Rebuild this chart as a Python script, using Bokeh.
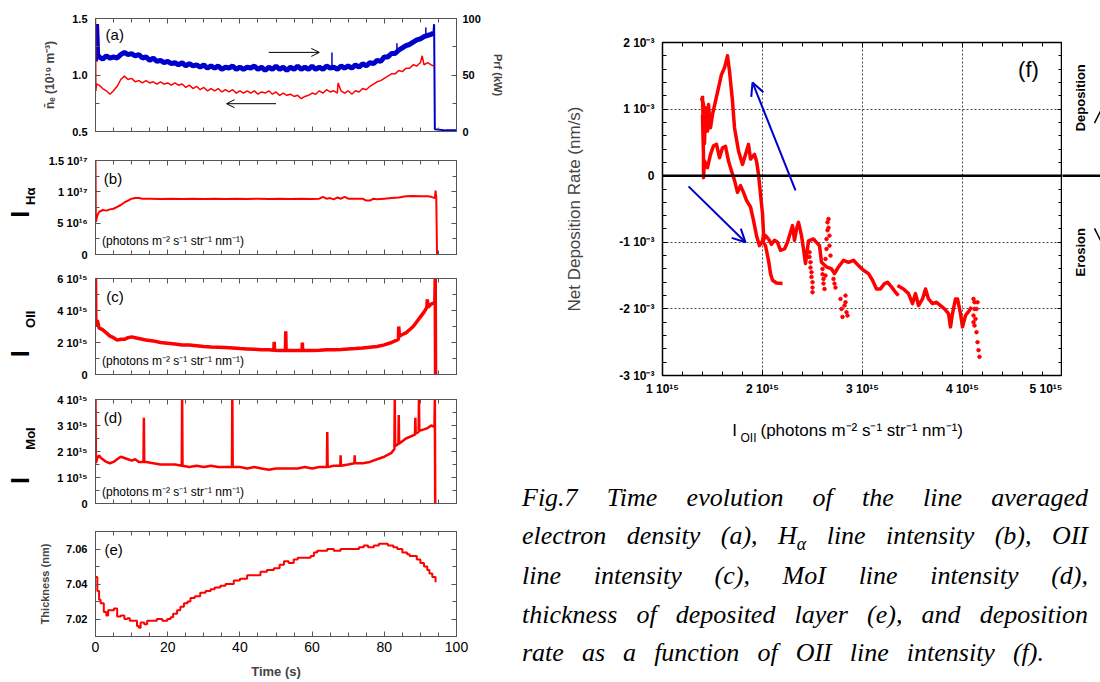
import math
from bokeh.plotting import figure
from bokeh.layouts import row, column
from bokeh.models import (LinearAxis, Range1d, FixedTicker, Label, Arrow, OpenHead,
                          Div, CustomJSTickFormatter)
from bokeh.core.properties import value
from bokeh.embed import file_html
from bokeh.resources import INLINE

FONT = "Liberation Sans"
RED = "#FF0000"
BLUE = "#0000CC"
FRAME = "#555555"

# ---------------- data ----------------
# (a) RF power (kW, right axis) - noisy band
prf_t = [
    0, 0.3, 0.6, 1, 2, 3, 4, 5, 6, 7,
    8, 9, 10, 11, 12, 13, 14, 15, 16, 17,
    18, 19, 20, 21, 22, 23, 24, 25, 26, 27,
    28, 29, 30, 31, 32, 33, 34, 35, 36, 37,
    38, 39, 40, 41, 42, 43, 44, 45, 46, 47,
    48, 49, 50, 51, 52, 53, 54, 55, 56, 57,
    58, 59, 60, 61, 62, 63, 64, 65, 66, 67,
    68, 69, 70, 71, 72, 73, 74, 75, 76, 77,
    78, 79, 80, 81, 82, 83, 84, 85, 86, 87,
    88, 89, 90, 91, 92, 93, 93.6]
prf_kw = [
    62, 95, 68, 66, 64, 67, 65, 66, 65, 68,
    70, 68, 69, 67, 68, 65, 66, 63, 65, 62,
    63, 61, 62, 60, 61, 59, 61, 58, 60, 58,
    59, 57, 59, 56, 58, 56, 58, 55, 57, 56,
    58, 55, 57, 55, 57, 56, 58, 55, 57, 54,
    57, 55, 58, 55, 57, 54, 57, 55, 58, 55,
    57, 55, 58, 55, 57, 55, 58, 56, 57, 55,
    58, 56, 58, 56, 59, 57, 60, 58, 61, 60,
    63, 62, 66, 66, 69, 69, 72, 74, 76, 77,
    79, 81, 82, 84, 85, 86, 87]
# (a) RF power after switch-off
prf_off_t = [93.6, 93.8, 94, 97, 100]
prf_off_kw = [87, 95, 2, 1, 1]
# (a) RF power short spikes (time, base, top)
prf_spike_t = [65.5, 83.5, 91.5]
prf_spike_lo = [57, 69, 84]
prf_spike_hi = [70, 78, 92]
# (a) line averaged density (1e19 m^-3, left axis)
ne_t = [
    0, 0.1, 0.3, 1, 2, 3, 4, 5, 6, 7,
    8, 9, 10, 11, 12, 13, 14, 15, 16, 17,
    18, 19, 20, 21, 22, 23, 24, 25, 26, 27,
    28, 29, 30, 31, 32, 33, 34, 35, 36, 37,
    38, 39, 40, 41, 42, 43, 44, 45, 46, 47,
    48, 49, 50, 51, 52, 53, 54, 55, 56, 57,
    58, 59, 60, 61, 62, 63, 64, 65, 66, 67,
    67.2, 68, 69, 70, 71, 72, 73, 74, 75, 76,
    77, 78, 79, 80, 81, 82, 83, 84, 85, 86,
    87, 88, 89, 90, 90.5, 91, 92, 93, 93.7]
ne_val = [
    1.50, 0.86, 0.92, 0.91, 0.88, 0.86, 0.83, 0.86, 0.90, 0.96,
    0.99, 0.96, 0.97, 0.94, 0.95, 0.93, 0.95, 0.93, 0.94, 0.92,
    0.94, 0.92, 0.93, 0.91, 0.93, 0.91, 0.92, 0.89, 0.91, 0.88,
    0.90, 0.87, 0.89, 0.86, 0.88, 0.86, 0.88, 0.85, 0.87, 0.85,
    0.87, 0.84, 0.86, 0.84, 0.86, 0.84, 0.86, 0.83, 0.85, 0.84,
    0.86, 0.83, 0.85, 0.82, 0.84, 0.82, 0.83, 0.81, 0.82, 0.79,
    0.81, 0.82, 0.84, 0.83, 0.86, 0.84, 0.87, 0.85, 0.86, 0.84,
    0.93, 0.86, 0.84, 0.86, 0.83, 0.86, 0.85, 0.88, 0.87, 0.90,
    0.92, 0.94, 0.95, 0.97, 0.99, 1.01, 1.01, 1.04, 1.03, 1.06,
    1.06, 1.09, 1.08, 1.11, 1.17, 1.09, 1.11, 1.09, 1.08]
# (b) H-alpha intensity (1e16 photons ...)
ha_t = [
    0, 0.1, 0.5, 1, 2, 3, 4, 5, 6, 7,
    8, 9, 10, 11, 12, 13, 15, 18, 21, 24,
    27, 30, 33, 36, 39, 42, 45, 48, 51, 54,
    57, 60, 62, 63, 64, 65, 66, 67, 68, 69,
    70, 72, 74, 75, 76, 77, 78, 80, 82, 84,
    86, 88, 90, 92, 93, 94, 94.2, 94.4, 94.6]
ha_val = [
    15.0, 5.2, 6.2, 6.8, 7.1, 7.0, 7.2, 7.3, 7.6, 7.9,
    8.3, 8.6, 8.9, 9.0, 9.0, 8.9, 8.9, 8.85, 8.9, 8.85,
    8.9, 8.85, 8.9, 8.85, 8.9, 8.85, 8.9, 8.85, 8.9, 8.85,
    8.9, 8.85, 8.9, 9.2, 8.9, 9.0, 8.8, 9.1, 8.9, 9.2,
    8.9, 8.9, 8.9, 8.6, 8.6, 8.9, 8.8, 8.9, 9.0, 9.1,
    9.3, 9.35, 9.3, 9.3, 9.2, 9.0, 10.2, 9.0, 0.0]
# (c) OII intensity (1e15)
oii_t = [
    0, 0.1, 0.5, 1, 2, 3, 4, 5, 6, 7,
    8, 9, 10, 11, 12, 13, 14, 16, 18, 20,
    22, 24, 26, 28, 30, 32, 34, 36, 38, 40,
    42, 44, 46, 48, 49.4, 49.5, 49.6, 51, 52.6, 52.7,
    52.8, 55, 57.2, 57.3, 57.4, 60, 62, 64, 66, 68,
    70, 72, 74, 76, 78, 80, 82, 83.9, 84, 84.2,
    85, 86, 87, 88, 89, 90, 91, 91.8, 91.9, 92.1,
    93, 94, 94.1, 94.2]
oii_val = [
    6.0, 3.0, 3.4, 2.9, 2.8, 2.6, 2.4, 2.3, 2.15, 2.2,
    2.2, 2.3, 2.35, 2.3, 2.25, 2.2, 2.15, 2.1, 2.0, 1.95,
    1.9, 1.85, 1.85, 1.8, 1.75, 1.72, 1.7, 1.68, 1.65, 1.62,
    1.6, 1.58, 1.55, 1.55, 1.52, 2.05, 1.52, 1.5, 1.5, 2.7,
    1.5, 1.5, 1.5, 2.0, 1.5, 1.5, 1.52, 1.55, 1.55, 1.57,
    1.6, 1.62, 1.65, 1.7, 1.75, 1.85, 2.0, 2.2, 3.0, 2.4,
    2.5, 2.6, 2.8, 3.0, 3.3, 3.6, 3.9, 4.2, 4.7, 4.2,
    4.4, 4.5, 6.0, 0.0]
# (d) MoI intensity (1e15)
moi_t = [
    0, 0.1, 0.5, 1, 1.5, 2, 3, 4, 5, 6,
    7, 8, 9, 10, 11, 12, 13.3, 13.4, 13.5, 14,
    16, 18, 20, 22, 23.9, 24.0, 24.1, 26, 28, 30,
    32, 34, 36, 37.8, 37.9, 38.0, 40, 42, 44, 46,
    48, 50, 52, 54, 56, 58, 60, 62, 64.1, 64.2,
    64.3, 66, 67.8, 67.9, 68.0, 70, 71.7, 71.8, 71.9, 74,
    76, 78, 80, 82, 82.8, 82.9, 83.0, 83.9, 84.0, 84.1,
    86, 88.5, 88.6, 88.7, 89.5, 89.6, 89.7, 91, 92, 93,
    93.9, 94.0, 94.1]
moi_val = [
    4.0, 1.55, 1.75, 1.85, 1.75, 1.7, 1.6, 1.55, 1.6, 1.7,
    1.8, 1.75, 1.7, 1.65, 1.7, 1.6, 1.6, 3.3, 1.6, 1.6,
    1.55, 1.5, 1.5, 1.5, 1.45, 4.0, 1.45, 1.4, 1.45, 1.4,
    1.45, 1.4, 1.4, 1.4, 4.0, 1.4, 1.4, 1.35, 1.4, 1.35,
    1.3, 1.35, 1.35, 1.35, 1.35, 1.4, 1.35, 1.4, 1.4, 2.75,
    1.4, 1.45, 1.45, 1.85, 1.45, 1.5, 1.55, 1.85, 1.55, 1.55,
    1.6, 1.7, 1.8, 1.95, 2.1, 4.0, 2.2, 2.3, 3.4, 2.3,
    2.5, 2.65, 3.3, 2.7, 2.75, 4.0, 2.8, 2.85, 2.9, 3.0,
    2.95, 4.0, 0.0]
# (e) thickness (nm)
th_t = [
    0, 0.5, 1, 1.4, 2.3, 3, 3.5, 4.2, 5.1, 6,
    7, 8, 8.8, 9.5, 10.6, 11.5, 12, 12.5, 13.5, 14.3,
    15.5, 17, 18.5, 19.9, 20.8, 21.5, 22.6, 23.5, 24.5, 25.5,
    26.3, 27.5, 29, 30.5, 31.9, 33, 34.6, 36, 38.3, 40,
    42, 43.5, 45.7, 47.5, 49.4, 51, 52.2, 53.5, 54.9, 56,
    56.8, 58, 59.6, 60.5, 61.4, 62.5, 64.2, 66, 67.9, 69.5,
    71.6, 73, 74.3, 75.5, 77.1, 78.5, 79.9, 81, 81.7, 82.5,
    83.6, 85, 86.3, 87, 88.2, 89, 90, 91, 91.9, 92.5,
    93.3, 94.2]
th_val = [
    7.044, 7.036, 7.031, 7.029, 7.024, 7.022, 7.025, 7.025, 7.026, 7.0215,
    7.022, 7.020, 7.0205, 7.019, 7.019, 7.016, 7.015, 7.018, 7.017, 7.019,
    7.019, 7.020, 7.019, 7.020, 7.021, 7.023, 7.025, 7.027, 7.029, 7.030,
    7.032, 7.033, 7.035, 7.036, 7.037, 7.038, 7.039, 7.040, 7.042, 7.043,
    7.045, 7.045, 7.047, 7.048, 7.049, 7.051, 7.053, 7.052, 7.054, 7.055,
    7.055, 7.055, 7.056, 7.058, 7.059, 7.059, 7.060, 7.059, 7.060, 7.060,
    7.060, 7.061, 7.062, 7.061, 7.062, 7.063, 7.063, 7.062, 7.062, 7.061,
    7.060, 7.058, 7.057, 7.056, 7.056, 7.054, 7.052, 7.050, 7.048, 7.046,
    7.044, 7.041]
# (f) net deposition rate (1e-3 nm/s) vs OII intensity (1e15)
f_up_x = [
    1.39, 1.41, 1.42, 1.43, 1.45, 1.46, 1.48, 1.50, 1.53, 1.56,
    1.59, 1.62, 1.65, 1.67, 1.70, 1.72, 1.76, 1.80, 1.83, 1.86,
    1.88, 1.92, 1.94, 1.96, 1.98, 2.00, 2.01, 2.00, 2.03, 2.06]
f_up_y = [
    1.17, 1.07, 0.48, 1.02, 0.67, 1.07, 0.72, 0.92, 1.12, 1.32,
    1.52, 1.62, 1.80, 1.57, 1.12, 0.72, 0.37, 0.17, 0.32, 0.47,
    0.25, 0.32, 0.22, 0.02, -0.28, -0.57, -0.87, -1.00, -0.90, -0.95]
f_lo_x = [
    1.40, 1.41, 1.40, 1.41, 1.41, 1.42, 1.45, 1.48, 1.51, 1.54,
    1.57, 1.60, 1.63, 1.66, 1.69, 1.72, 1.75, 1.78, 1.81, 1.84,
    1.88, 1.91, 1.94, 1.97, 2.00, 2.03, 2.06, 2.08, 2.10, 2.14,
    2.20]
f_lo_y = [
    1.20, 0.60, 0.90, 0.30, -0.03, 0.22, 0.12, 0.32, 0.45, 0.47,
    0.27, 0.42, 0.44, 0.22, 0.07, -0.07, -0.25, -0.15, -0.25, -0.37,
    -0.47, -0.67, -0.90, -1.05, -0.98, -1.05, -1.27, -1.47, -1.57, -1.61,
    -1.62]
f_mid_x = [
    2.06, 2.09, 2.12, 2.15, 2.18, 2.22, 2.25, 2.28, 2.30, 2.32,
    2.34, 2.36, 2.39, 2.41, 2.43, 2.46, 2.51, 2.54, 2.57, 2.59,
    2.64, 2.69, 2.72, 2.76, 2.81, 2.86, 2.91, 2.96, 3.01, 3.06,
    3.10, 3.14, 3.18, 3.22, 3.25, 3.29, 3.33, 3.36]
f_mid_y = [
    -0.95, -1.03, -0.97, -1.00, -1.12, -1.10, -1.00, -0.85, -0.75, -0.97,
    -0.80, -0.70, -0.90, -1.10, -1.32, -0.98, -0.95, -1.00, -1.05, -1.30,
    -1.37, -1.40, -1.47, -1.37, -1.27, -1.30, -1.27, -1.35, -1.42, -1.47,
    -1.57, -1.70, -1.70, -1.62, -1.60, -1.67, -1.75, -1.80]
f_end_x = [
    3.35, 3.41, 3.46, 3.50, 3.53, 3.56, 3.60, 3.63, 3.66, 3.70,
    3.74, 3.78, 3.82, 3.86, 3.88, 3.90, 3.93, 3.95, 3.98, 4.00,
    4.03, 4.07, 4.09]
f_end_y = [
    -1.65, -1.70, -1.77, -1.92, -1.77, -1.95, -1.85, -1.70, -1.85, -1.92,
    -1.90, -1.95, -2.00, -2.07, -2.27, -2.07, -1.85, -1.85, -2.07, -2.27,
    -2.10, -2.02, -1.97]
f_dot_x = [
    2.47, 2.47, 2.48, 2.48, 2.49, 2.49, 2.50, 2.50, 2.50, 2.60,
    2.60, 2.61, 2.61, 2.62, 2.63, 2.63, 2.64, 2.64, 2.65, 2.65,
    2.66, 2.66, 2.67, 2.67, 2.68, 2.71, 2.72, 2.73, 2.78, 2.79,
    2.80, 2.82, 2.83, 2.83, 2.84, 2.85, 4.11, 4.12, 4.12, 4.11,
    4.11, 4.12, 4.13, 4.14, 4.15, 4.14, 4.15, 4.16, 4.17]
f_dot_y = [
    -1.15, -1.22, -1.30, -1.38, -1.45, -1.52, -1.60, -1.68, -1.75, -1.40,
    -1.48, -1.55, -1.62, -1.70, -1.50, -1.25, -1.10, -0.95, -0.82, -0.70,
    -0.65, -0.78, -0.90, -1.05, -1.20, -1.55, -1.62, -1.68, -1.85, -2.00,
    -2.12, -1.95, -1.90, -1.80, -2.05, -2.10, -1.85, -1.90, -2.00, -2.10,
    -2.20, -2.25, -2.15, -2.00, -1.90, -2.35, -2.50, -2.62, -2.72]

# ---------------- ticks ----------------
time_ticks = [0, 20, 40, 60, 80, 100]
time_labels = ["0", "20", "40", "60", "80", "100"]
time_minor = list(range(0, 101, 5))
a_ticks, a_labels, a_minor = [0.5, 1.0, 1.5], ["0.5", "1.0", "1.5"], [0.75, 1.25]
a_rticks, a_rlabels, a_rminor = [0, 50, 100], ["0", "50", "100"], [25, 75]
b_ticks, b_labels, b_minor = [0, 5, 10, 15], ["0", "5 10¹⁶", "1 10¹⁷", "1.5 10¹⁷"], [2.5, 7.5, 12.5]
c_ticks, c_labels, c_minor = [0, 2, 4, 6], ["0", "2 10¹⁵", "4 10¹⁵", "6 10¹⁵"], [1, 3, 5]
d_ticks, d_labels, d_minor = [0, 1, 2, 3, 4], ["0", "1 10¹⁵", "2 10¹⁵", "3 10¹⁵", "4 10¹⁵"], [0.5, 1.5, 2.5, 3.5]
e_ticks, e_labels, e_minor = [7.02, 7.04, 7.06], ["7.02", "7.04", "7.06"], [7.01, 7.03, 7.05, 7.07]
f_xticks = [1, 2, 3, 4, 5]
f_xlabels = ["1 10¹⁵", "2 10¹⁵", "3 10¹⁵", "4 10¹⁵", "5 10¹⁵"]
f_xminor = [round(1 + 0.2 * i, 2) for i in range(21)]
f_yticks = [-3, -2, -1, 0, 1, 2]
f_ylabels = ["-3 10⁻³", "-2 10⁻³", "-1 10⁻³", "0", "1 10⁻³", "2 10⁻³"]
f_yminor = [round(-3 + 0.2 * i, 2) for i in range(26)]

caption_lines = [
    "Fig.7 Time evolution of the line averaged",
    "electron density (a), H<span style='font-size:18px;position:relative;top:6px'>α</span> line intensity (b), OII",
    "line intensity (c), MoI line intensity (d),",
    "thickness of deposited layer (e), and deposition",
    "rate as a function of OII line intensity (f).",
]
caption_widths = [566, 566, 566, 566, 522]


def style_axis(ax, ticks, minor, labels=None, size="11px", bold=True, color=FRAME, standoff=8):
    ax.ticker = FixedTicker(ticks=ticks, minor_ticks=minor)
    ax.major_tick_in = 5
    ax.major_tick_out = 0
    ax.minor_tick_in = 4
    ax.minor_tick_out = 0
    ax.axis_line_color = color
    ax.major_tick_line_color = color
    ax.minor_tick_line_color = color
    if labels is None:
        ax.formatter = CustomJSTickFormatter(code="return ''")
        ax.major_label_standoff = 0
    else:
        ax.major_label_overrides = dict(zip(ticks, labels))
        ax.major_label_text_font = FONT
        ax.major_label_text_font_size = size
        ax.major_label_text_font_style = "bold" if bold else "normal"
        ax.major_label_text_color = "black"
        ax.major_label_standoff = standoff


def left_panel(y0, y1, fh, top, bottom, yt, yl, ym, border_left=95, xlabels=False):
    p = figure(frame_width=361, frame_height=fh, min_border_left=border_left, min_border_right=60,
               min_border_top=top, min_border_bottom=bottom,
               x_range=Range1d(0, 100), y_range=Range1d(y0, y1),
               output_backend="svg", toolbar_location=None)
    p.grid.visible = False
    p.outline_line_color = FRAME
    style_axis(p.left[0], yt, ym, yl)
    style_axis(p.below[0], time_ticks, time_minor,
               time_labels if xlabels else None, size="14px", bold=False, standoff=5)
    top_ax = LinearAxis()
    p.add_layout(top_ax, "above")
    style_axis(top_ax, time_ticks, time_minor, None)
    return p


def side_fig(w, p, top, bottom, fh):
    # narrow text-only figure sharing the panel's vertical scale
    s = figure(frame_width=w, frame_height=fh, min_border_left=0, min_border_right=0,
               min_border_top=top, min_border_bottom=bottom,
               x_range=Range1d(0, w), y_range=p.y_range,
               x_axis_type=None, y_axis_type=None,
               output_backend="svg", toolbar_location=None)
    s.outline_line_color = None
    return s


def txt(p, x, y, text, size, bold=False, angle=0.0, align="left", baseline="middle"):
    p.text(x=[x], y=[y], text=[text], text_font=value(FONT), text_font_size=value(size),
           text_font_style="bold" if bold else "normal", angle=angle,
           text_align=align, text_baseline=baseline, text_color="black")


def lab(p, x, y, text, size, bold=False, align="left"):
    p.add_layout(Label(x=x, y=y, text=text, text_font=FONT, text_font_size=size,
                       text_font_style="bold" if bold else "normal",
                       text_align=align, text_baseline="middle", text_color="black"))


UNITS = "(photons m⁻² s⁻¹ str⁻¹ nm⁻¹)"
V = math.pi / 2
SIDE = 42

# ---- (a)
pa = left_panel(0.5, 1.5, 113, 18, 10, a_ticks, a_labels, a_minor)
pa.extra_y_ranges = {"rf": Range1d(0, 100)}
ra = LinearAxis(y_range_name="rf", axis_label="Prf (kW)")
pa.add_layout(ra, "right")
style_axis(ra, a_rticks, a_rminor, a_rlabels, standoff=6)
ra.axis_label_text_font = FONT
ra.axis_label_text_font_size = "11px"
ra.axis_label_text_font_style = "bold"
ra.axis_label_standoff = 8
la = pa.left[0]
la.axis_label = "n\u0304\u2091 (10¹⁹ m⁻³)"
la.axis_label_text_font = FONT
la.axis_label_text_font_size = "12px"
la.axis_label_text_font_style = "bold"
la.axis_label_standoff = 12
pa.line(prf_t, prf_kw, y_range_name="rf", color=BLUE, line_width=5)
pa.line(prf_off_t, prf_off_kw, y_range_name="rf", color=BLUE, line_width=2)
pa.segment(x0=prf_spike_t, y0=prf_spike_lo, x1=prf_spike_t, y1=prf_spike_hi,
           y_range_name="rf", color=BLUE, line_width=1.5)
pa.line(ne_t, ne_val, color=RED, line_width=1.5)
pa.add_layout(Arrow(end=OpenHead(size=8, line_color="black", line_width=1), x_start=48, y_start=1.20,
                    x_end=62, y_end=1.20, line_color="black", line_width=1))
pa.add_layout(Arrow(end=OpenHead(size=8, line_color="black", line_width=1), x_start=50, y_start=0.746,
                    x_end=36.3, y_end=0.746, line_color="black", line_width=1))
lab(pa, 2.8, 1.36, "(a)", "15px")

# ---- (b)
pb = left_panel(0, 15, 94, 19, 8, b_ticks, b_labels, b_minor, border_left=95 - SIDE)
rb = LinearAxis(); pb.add_layout(rb, "right"); style_axis(rb, b_ticks, b_minor, None)
pb.line(ha_t, ha_val, color=RED, line_width=2)
lab(pb, 2.3, 12.1, "(b)", "15px")
lab(pb, 1.8, 2.13, UNITS, "12px")
sb = side_fig(SIDE, pb, 19, 8, 94)
txt(sb, 19, 6.4, "I", "25px", bold=True, angle=V, align="center")
txt(sb, 30, 9.3, "Hα", "13px", bold=True, angle=V, align="center")

# ---- (c)
pc = left_panel(0, 6, 96, 16, 10, c_ticks, c_labels, c_minor, border_left=95 - SIDE)
rc = LinearAxis(); pc.add_layout(rc, "right"); style_axis(rc, c_ticks, c_minor, None)
pc.line(oii_t, oii_val, color=RED, line_width=3.5)
lab(pc, 3.0, 4.86, "(c)", "15px")
lab(pc, 1.8, 0.83, UNITS, "12px")
sc = side_fig(SIDE, pc, 16, 10, 96)
txt(sc, 19, 1.3, "I", "25px", bold=True, angle=V, align="center")
txt(sc, 30, 3.45, "OII", "13px", bold=True, angle=V, align="center")

# ---- (d)
pd_ = left_panel(0, 4, 104, 15, 8, d_ticks, d_labels, d_minor, border_left=95 - SIDE)
rd = LinearAxis(); pd_.add_layout(rd, "right"); style_axis(rd, d_ticks, d_minor, None)
pd_.line(moi_t, moi_val, color=RED, line_width=2.5)
lab(pd_, 2.3, 3.30, "(d)", "15px")
lab(pd_, 1.8, 0.44, UNITS, "12px")
sd = side_fig(SIDE, pd_, 15, 8, 104)
txt(sd, 19, 0.88, "I", "25px", bold=True, angle=V, align="center")
txt(sd, 30, 2.5, "MoI", "13px", bold=True, angle=V, align="center")

# ---- (e)
pe = left_panel(7.01, 7.07, 105, 20, 46, e_ticks, e_labels, e_minor, xlabels=True)
re_ = LinearAxis(); pe.add_layout(re_, "right"); style_axis(re_, e_ticks, e_minor, None)
pe.step(th_t, th_val, mode="after", color=RED, line_width=2)
le = pe.left[0]
le.axis_label = "Thickness (nm)"
le.axis_label_text_font = FONT
le.axis_label_text_font_size = "11px"
le.axis_label_text_font_style = "bold"
le.axis_label_standoff = 12
be = pe.below[0]
be.axis_label = "Time (s)"
be.axis_label_text_font = FONT
be.axis_label_text_font_size = "13px"
be.axis_label_text_font_style = "bold"
be.axis_label_standoff = 9
lab(pe, 2.5, 7.0596, "(e)", "15px")

# ---- (f)
pf = figure(frame_width=400, frame_height=333, min_border_left=146, min_border_right=0,
            min_border_top=42, min_border_bottom=25,
            x_range=Range1d(1, 5), y_range=Range1d(-3, 2),
            output_backend="svg", toolbar_location=None)
pf.outline_line_color = "black"
pf.outline_line_width = 1.5
style_axis(pf.left[0], f_yticks, f_yminor, f_ylabels, size="12px", color="black", standoff=8)
style_axis(pf.below[0], f_xticks, f_xminor, f_xlabels, size="12px", color="black", standoff=6)
for loc, tk, mn in (("above", f_xticks, f_xminor), ("right", f_yticks, f_yminor)):
    ax = LinearAxis()
    pf.add_layout(ax, loc)
    style_axis(ax, tk, mn, None, color="black")
pf.xgrid.ticker = FixedTicker(ticks=[2, 3, 4])
pf.ygrid.ticker = FixedTicker(ticks=[-2, -1, 1])
pf.grid.grid_line_color = "#444444"
pf.grid.grid_line_dash = "2 2"
pf.grid.grid_line_width = 1
lf = pf.left[0]
lf.axis_label = "Net Deposition Rate (nm/s)"
lf.axis_label_text_font = FONT
lf.axis_label_text_font_size = "17px"
lf.axis_label_text_font_style = "normal"
lf.axis_label_standoff = 32

pf.add_layout(Arrow(end=None, x_start=1, y_start=0, x_end=5.5, y_end=0,
                    line_color="black", line_width=2.5))
for xs, ys in ((f_up_x, f_up_y), (f_lo_x, f_lo_y), (f_mid_x, f_mid_y), (f_end_x, f_end_y)):
    pf.line(xs, ys, color=RED, line_width=3.5, line_join="round")
pf.scatter(f_dot_x, f_dot_y, size=3.5, color=RED)
pf.add_layout(Arrow(end=OpenHead(size=13, line_color=BLUE, line_width=2), x_start=2.33, y_start=-0.22,
                    x_end=1.90, y_end=1.40, line_color=BLUE, line_width=2))
pf.add_layout(Arrow(end=OpenHead(size=13, line_color=BLUE, line_width=2), x_start=1.26, y_start=-0.16,
                    x_end=1.83, y_end=-1.0, line_color=BLUE, line_width=2))
lab(pf, 4.66, 1.60, "(f)", "22px", align="center")

# right strip of (f): zero line continues, Deposition / Erosion
SW = 38
sf = side_fig(SW, pf, 42, 25, 333)
sf.segment(x0=[-5], y0=[0], x1=[SW + 5], y1=[0], line_color="black", line_width=2.5)
sf.segment(x0=[32, 32], y0=[0.79, -0.79], x1=[44, 44], y1=[1.15, -1.15],
           line_color="black", line_width=1.5)
txt(sf, 18, 1.17, "Deposition", "13px", bold=True, angle=V, align="center")
txt(sf, 18, -1.15, "Erosion", "13px", bold=True, angle=V, align="center")

# x-axis title strip of (f)
xf = figure(frame_width=400, frame_height=46, min_border_left=146, min_border_right=38,
            min_border_top=0, min_border_bottom=0,
            x_range=pf.x_range, y_range=Range1d(0, 46),
            x_axis_type=None, y_axis_type=None,
            output_backend="svg", toolbar_location=None)
xf.outline_line_color = None
txt(xf, 1.72, 16, "I", "17px", align="center")
txt(xf, 1.86, 9, "OII", "12px", align="center")
txt(xf, 1.98, 16, UNITS, "17px")

# ---- caption
html = ("<div style=\"padding:28px 0 0 1px; font-family:'Liberation Serif','Times New Roman',serif;"
        " font-style:italic; font-size:26px; line-height:38.2px; color:#000;\">")
for i, (ln, w) in enumerate(zip(caption_lines, caption_widths)):
    html += (f"<div style='width:{w}px; white-space:nowrap; text-align:justify;"
             f" text-align-last:justify;'>{ln}</div>")
html += "</div>"
cap = Div(text=html, width=584, height=236, styles={"overflow": "hidden"})

left = column(pa, row(sb, pb), row(sc, pc), row(sd, pd_), pe)
right = column(row(pf, sf), xf, cap)
layout = row(left, right)
open("out.html", "w").write(file_html(layout, INLINE))
